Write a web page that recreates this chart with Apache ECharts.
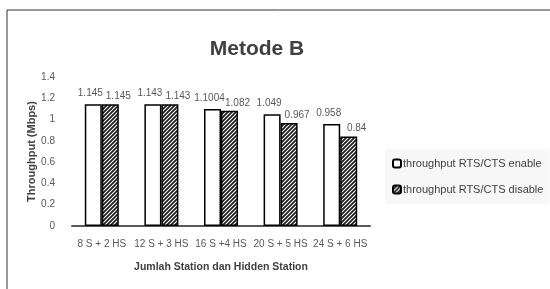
<!DOCTYPE html>
<html>
<head>
  <meta charset="UTF-8">
  <title>Metode B</title>
  <script src="https://cdn.jsdelivr.net/npm/echarts@6.0.0/dist/echarts.min.js"></script>
  <style>
    html, body { margin: 0; padding: 0; background: #fff; }
    #chart { width: 550px; height: 289px; }
  </style>
</head>
<body>
  <div id="chart"></div>
  <script>
    const categories = ['8 S + 2 HS', '12 S + 3 HS', '16 S +4 HS', '20 S + 5 HS', '24 S + 6 HS'];
    const enableValues = [1.145, 1.143, 1.1004, 1.049, 0.958];
    const disableValues = [1.145, 1.143, 1.082, 0.967, 0.84];
    const seriesNames = ['throughput RTS/CTS enable', 'throughput RTS/CTS disable'];

    const font = '"Liberation Sans", Arial, sans-serif';

    // diagonal hatch pattern for the second series
    function hatch() {
      const c = document.createElement('canvas');
      c.width = 4; c.height = 4;
      const g = c.getContext('2d');
      g.fillStyle = '#ffffff';
      g.fillRect(0, 0, 4, 4);
      g.strokeStyle = '#1a1a1a';
      g.lineWidth = 1.7;
      g.beginPath();
      g.moveTo(0, 4); g.lineTo(4, 0);
      g.moveTo(-1, 1); g.lineTo(1, -1);
      g.moveTo(3, 5); g.lineTo(5, 3);
      g.stroke();
      return c;
    }

    const chart = echarts.init(document.getElementById('chart'));
    chart.setOption({
      animation: false,
      title: {
        text: 'Metode B',
        left: 252,
        top: 34,
        textAlign: 'center',
        textStyle: { fontFamily: font, fontSize: 21, fontWeight: 'bold', color: '#404040' }
      },
      graphic: [{
        type: 'polyline',
        shape: { points: [[7, 289], [7, 10], [550, 10]] },
        style: { stroke: '#333', lineWidth: 1, fill: null }
      }],
      legend: {
        orient: 'vertical',
        left: 385,
        top: 149,
        itemWidth: 8,
        itemHeight: 8,
        itemGap: 15,
        padding: [9, 6, 9, 7],
        backgroundColor: '#f7f7f7',
        textStyle: { fontFamily: font, fontSize: 11, color: '#404040', padding: [0, 0, 0, -3] },
        data: seriesNames
      },
      grid: { left: 72, right: 180, top: 77, bottom: 63 },
      xAxis: {
        type: 'category',
        data: categories,
        name: 'Jumlah Station dan Hidden Station',
        nameLocation: 'middle',
        nameGap: 36,
        nameMoveOverlap: false,
        nameTextStyle: { fontFamily: font, fontSize: 10.5, fontWeight: 'bold', color: '#404040' },
        axisLine: { lineStyle: { color: '#595959', width: 2 } },
        axisTick: { show: false },
        axisLabel: { interval: 0, fontFamily: font, fontSize: 10, color: '#595959', margin: 13 }
      },
      yAxis: {
        type: 'value',
        min: 0,
        max: 1.4,
        interval: 0.2,
        name: 'Throughput (Mbps)',
        nameLocation: 'middle',
        nameGap: 35,
        nameMoveOverlap: false,
        nameTextStyle: { fontFamily: font, fontSize: 11, fontWeight: 'bold', color: '#404040' },
        splitLine: { show: false },
        axisLine: { show: false },
        axisTick: { show: false },
        axisLabel: {
          fontFamily: font, fontSize: 10, color: '#595959', margin: 17,
          formatter: v => String(Math.round(v * 10) / 10)
        }
      },
      series: [
        {
          name: seriesNames[0],
          type: 'bar',
          data: enableValues,
          barWidth: 17,
          barGap: '0%',
          itemStyle: { color: '#ffffff', borderColor: '#000000', borderWidth: 1.5 },
          label: {
            show: true, position: 'top', distance: 6, offset: [-3, 0],
            fontFamily: font, fontSize: 10, color: '#595959'
          }
        },
        {
          name: seriesNames[1],
          type: 'bar',
          data: disableValues,
          barWidth: 17,
          itemStyle: { color: { image: hatch(), repeat: 'repeat' }, borderColor: '#000000', borderWidth: 1.5 },
          label: {
            show: true, position: 'top', distance: 3, offset: [8, 0],
            fontFamily: font, fontSize: 10, color: '#595959'
          }
        }
      ]
    });
  </script>
</body>
</html>
